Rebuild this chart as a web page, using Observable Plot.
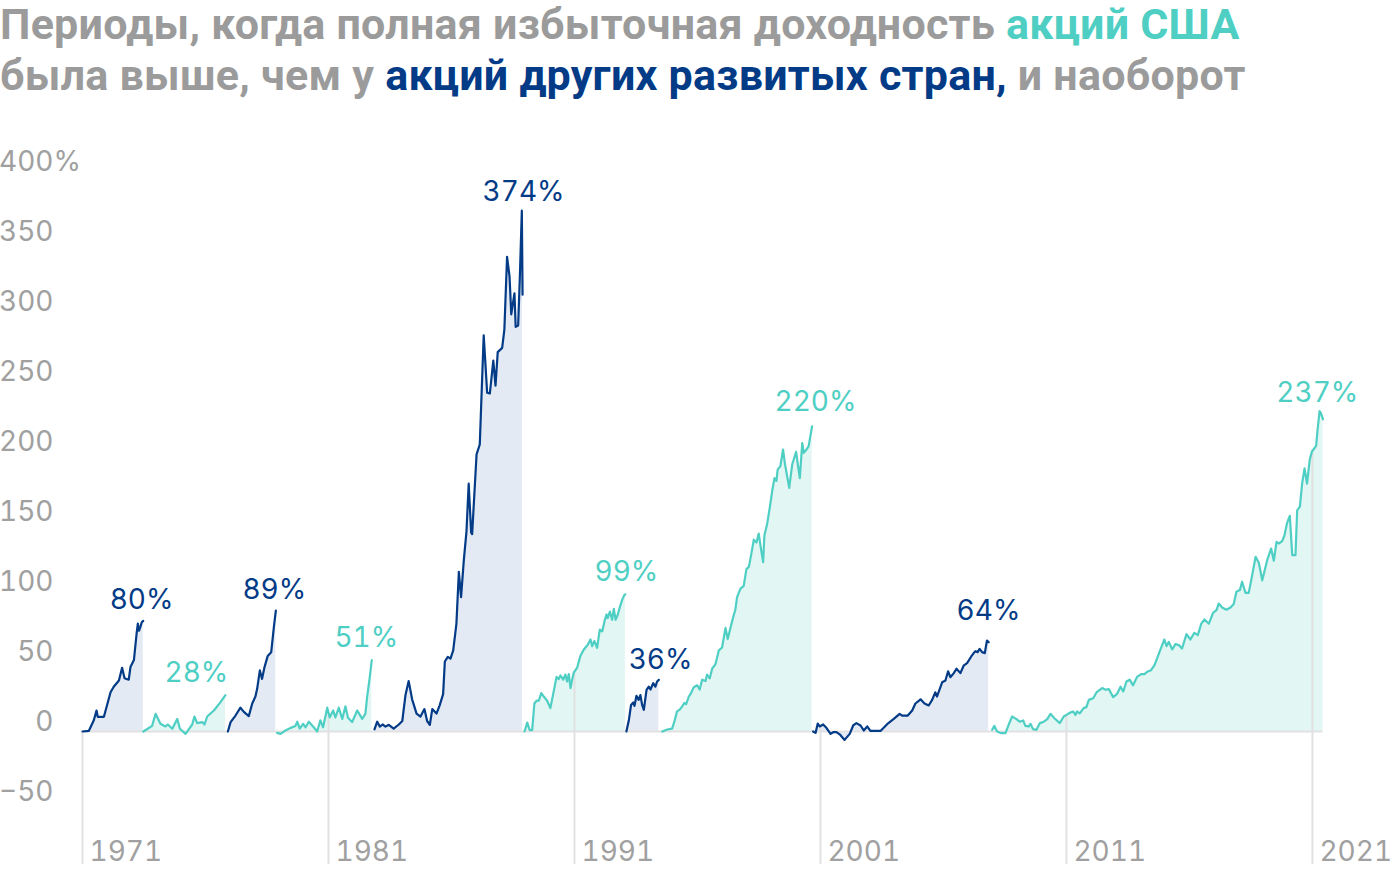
<!DOCTYPE html>
<html>
<head>
<meta charset="utf-8">
<script src="https://cdn.jsdelivr.net/npm/d3@7"></script>
<script src="https://cdn.jsdelivr.net/npm/@observablehq/plot@0.6"></script>
<style>
  html, body { margin: 0; padding: 0; background: #fff; width: 1400px; height: 872px; overflow: hidden; }
  #title { position: absolute; left: 0; top: -1px; font-family: Roboto, "Noto Sans", sans-serif; font-weight: 700; font-size: 43px; letter-spacing: 0.25px; line-height: 51px; color: #9b9b9b; white-space: nowrap; }
  #title .us { color: #4fcfc4; }
  #title .dev { color: #033b87; }
  #chart { position: absolute; left: 0; top: 110px; }
  #chart svg text { font-variant-numeric: tabular-nums; font-feature-settings: "tnum" 1; }
</style>
</head>
<body>
<div id="title">Периоды, когда полная избыточная доходность <span class="us">акций США</span><br>была выше, чем у <span class="dev">акций других развитых стран,</span> и наоборот</div>
<div id="chart"></div>
<script>
// ---- data: [year, excess return %] per period ----
const period1 = [[1971.00,0],[1971.26,0.5],[1971.46,8],[1971.57,15],[1971.62,10.5],[1971.87,10.5],[1972.14,28],[1972.27,32],[1972.48,36.4],[1972.61,45.5],[1972.71,38],[1972.88,37],[1972.95,46],[1973.09,51],[1973.20,70],[1973.25,77],[1973.30,72],[1973.36,75],[1973.41,78],[1973.47,79]];
const period2 = [[1973.47,0],[1973.65,2],[1973.83,4],[1973.97,12.6],[1974.17,5.5],[1974.37,3.6],[1974.47,5],[1974.65,2],[1974.85,9],[1974.96,2],[1975.19,-1.7],[1975.46,5],[1975.55,10.7],[1975.66,6],[1975.87,6.7],[1975.96,5],[1976.07,10.7],[1976.34,15],[1976.61,21],[1976.81,26]];
const period3 = [[1976.91,0],[1977.02,6.7],[1977.22,11.4],[1977.42,17],[1977.56,14],[1977.76,11],[1977.90,20],[1978.03,25],[1978.10,30.5],[1978.21,43.6],[1978.30,37.6],[1978.40,46],[1978.53,54],[1978.67,56.6],[1978.78,74.5],[1978.86,86.4]];
const period4 = [[1978.91,-1],[1979.05,-1.7],[1979.25,0.7],[1979.46,2.6],[1979.66,4],[1979.73,7],[1979.83,2],[1979.97,5.5],[1980.07,3],[1980.20,7],[1980.40,3],[1980.54,0],[1980.67,8],[1980.78,3],[1980.95,17],[1981.05,10],[1981.19,15],[1981.28,10],[1981.42,17],[1981.56,9],[1981.69,18],[1981.79,10],[1981.96,6.7],[1982.17,15],[1982.37,9],[1982.50,12.6],[1982.57,24.5],[1982.68,39],[1982.76,51]];
const period5 = [[1982.87,1.6],[1982.98,7],[1983.09,3.5],[1983.20,5],[1983.32,3.5],[1983.45,4.8],[1983.65,2],[1983.86,5],[1984.00,7.5],[1984.13,26],[1984.26,36],[1984.40,23],[1984.58,12.8],[1984.74,10.7],[1984.90,16],[1985.01,7.5],[1985.12,4.8],[1985.22,16],[1985.39,12.8],[1985.52,18.7],[1985.66,26.7],[1985.73,50],[1985.85,53.3],[1985.96,52],[1986.07,58],[1986.20,76.8],[1986.30,114],[1986.39,96],[1986.50,122],[1986.61,143],[1986.70,177],[1986.80,142],[1986.84,141],[1987.02,198],[1987.15,205],[1987.31,283],[1987.45,242],[1987.56,241.5],[1987.70,265],[1987.79,247],[1987.88,271],[1988.06,274],[1988.15,287],[1988.26,339],[1988.36,325],[1988.43,298],[1988.56,313],[1988.61,289],[1988.71,290],[1988.78,325],[1988.86,372],[1988.89,312]];
const period6 = [[1988.97,0],[1989.08,6.4],[1989.18,1],[1989.28,1],[1989.37,20],[1989.46,22],[1989.55,22],[1989.65,27.4],[1989.75,25],[1989.89,22],[1990.02,16.7],[1990.16,29],[1990.27,39],[1990.36,37.4],[1990.43,40],[1990.54,37],[1990.63,40.7],[1990.70,35.7],[1990.77,41],[1990.84,31],[1990.91,37.4],[1990.97,42],[1991.11,45.7],[1991.24,54],[1991.38,58.6],[1991.54,62],[1991.65,65.7],[1991.72,61],[1991.81,64.6],[1991.92,59.8],[1992.03,72.8],[1992.13,71.6],[1992.22,78.8],[1992.30,83.6],[1992.35,81],[1992.44,85.7],[1992.53,79.8],[1992.60,87.6],[1992.67,79.8],[1992.76,83.4],[1992.84,88.6],[1992.94,94],[1993.03,97.6],[1993.07,98]];
const period7 = [[1993.11,0],[1993.21,8],[1993.30,19],[1993.39,20.7],[1993.44,18.3],[1993.52,25.5],[1993.61,22.6],[1993.68,26],[1993.75,19],[1993.82,15.5],[1993.93,29.8],[1994.02,32],[1994.09,30],[1994.20,34.5],[1994.29,32],[1994.36,35.7],[1994.43,36.9]];
const period8 = [[1994.57,0],[1994.77,1.4],[1994.97,2],[1995.07,7.6],[1995.17,14.4],[1995.28,15.6],[1995.38,18],[1995.47,20.4],[1995.54,19.6],[1995.65,25],[1995.74,27.4],[1995.85,31.6],[1995.99,33],[1996.09,30],[1996.19,37],[1996.33,36],[1996.39,40.7],[1996.50,38],[1996.60,45],[1996.73,48],[1996.87,58],[1997.00,60],[1997.14,74],[1997.23,66],[1997.34,74],[1997.45,81.6],[1997.54,87],[1997.61,96],[1997.75,102],[1997.88,104],[1997.99,116],[1998.09,117.6],[1998.18,126],[1998.29,137],[1998.40,135],[1998.49,141.4],[1998.59,129.5],[1998.67,121],[1998.72,140],[1998.83,148],[1998.94,160],[1999.04,172],[1999.13,181],[1999.21,179],[1999.26,187],[1999.37,189.5],[1999.48,201.4],[1999.56,190.7],[1999.65,182],[1999.73,174],[1999.85,190.7],[2000.01,199.8],[2000.08,190.7],[2000.16,181],[2000.26,206],[2000.32,199],[2000.43,201.4],[2000.52,203.8],[2000.66,218]];
const period9 = [[2000.70,0],[2000.80,-1],[2000.89,5.7],[2000.97,3.6],[2001.11,5],[2001.24,2.6],[2001.41,-1.7],[2001.52,-0.5],[2001.65,-0.5],[2001.78,-2],[2001.98,-6],[2002.19,-1.7],[2002.33,4.3],[2002.46,6],[2002.63,4.3],[2002.76,0.7],[2002.90,3.6],[2003.03,0.4],[2003.44,0.4],[2003.71,5.2],[2003.98,9],[2004.22,12.6],[2004.32,11.4],[2004.55,11.4],[2004.73,15],[2004.86,20],[2005.07,23],[2005.23,20],[2005.40,18.6],[2005.54,22.6],[2005.67,28],[2005.74,25],[2005.95,35.2],[2006.08,36.4],[2006.19,43],[2006.28,38.8],[2006.42,41.7],[2006.53,44.8],[2006.69,41.7],[2006.82,47],[2006.96,48.8],[2007.13,53.6],[2007.23,56],[2007.30,57.4],[2007.39,56.7],[2007.47,59],[2007.57,56.7],[2007.68,56],[2007.77,65],[2007.84,63.8]];
const period10 = [[2007.98,1.2],[2008.07,4],[2008.18,0],[2008.35,-1.2],[2008.52,-1.2],[2008.65,4.8],[2008.79,10.7],[2008.97,8.8],[2009.10,7],[2009.24,7.9],[2009.33,4],[2009.47,3.6],[2009.54,5.5],[2009.64,1.7],[2009.78,1.2],[2009.92,6],[2010.08,7],[2010.22,8.8],[2010.35,12.6],[2010.51,9.5],[2010.73,6],[2010.89,10.7],[2011.00,11.9],[2011.16,13.6],[2011.27,14.3],[2011.37,11.9],[2011.43,14.3],[2011.54,13],[2011.70,16.7],[2011.81,17.4],[2011.91,22.6],[2012.09,23.8],[2012.22,27.9],[2012.45,31],[2012.59,29.8],[2012.72,30.3],[2012.90,24.5],[2013.06,26.9],[2013.20,32],[2013.31,28.6],[2013.44,35.7],[2013.57,37],[2013.71,33],[2013.87,39],[2014.04,41],[2014.17,41],[2014.28,42.6],[2014.44,43.8],[2014.58,47.4],[2014.75,55.2],[2014.89,61.7],[2014.98,65.7],[2015.07,61],[2015.16,64],[2015.30,58.6],[2015.43,62.4],[2015.57,61.7],[2015.70,59.3],[2015.88,69.5],[2016.04,65.7],[2016.20,70.5],[2016.34,68.8],[2016.48,77],[2016.61,80],[2016.79,77],[2016.96,84.8],[2017.10,86.7],[2017.19,91.4],[2017.33,88.6],[2017.50,87],[2017.67,88.6],[2017.80,91],[2017.91,99.8],[2018.05,101],[2018.14,107],[2018.28,99],[2018.41,99],[2018.55,111.7],[2018.69,124.8],[2018.82,120.5],[2018.96,108],[2019.16,122.4],[2019.32,130.7],[2019.43,122],[2019.54,135.5],[2019.63,134.3],[2019.77,136],[2019.86,140],[2019.97,149],[2020.08,154],[2020.18,126],[2020.31,126],[2020.38,158],[2020.49,160.7],[2020.58,177],[2020.68,188],[2020.78,177],[2020.89,194],[2020.98,200],[2021.15,204],[2021.21,215.7],[2021.29,228.8],[2021.34,227.6],[2021.43,223]];

const periods = [period1, period2, period3, period4, period5, period6, period7, period8, period9, period10];
const periodLeader = ["dev", "us", "dev", "us", "dev", "us", "dev", "us", "dev", "us"];
const peakLabels = ["80%", "28%", "89%", "51%", "374%", "99%", "36%", "220%", "64%", "237%"];
const labelYear  = [1973.40, 1975.63, 1978.80, 1982.54, 1988.93, 1993.11, 1994.50, 2000.80, 2007.83, 2021.20];
const labelValue = [93.6, 42, 100.7, 67, 385, 113.6, 50.7, 235, 85.7, 242];
const yTicks = [-50, 0, 50, 100, 150, 200, 250, 300, 350, 400];
const xTicks = [1971, 1981, 1991, 2001, 2011, 2021];

// ---- styling ----
const COLORS = { dev: "#033b87", us: "#4fcfc4" };
const FILLS = { dev: "#e4eaf3", us: "#e2f6f3" };
const GRAY = "#a0a0a0";
const GRID = "#e1e1e1";

const rows = periods.flatMap((pts, i) => pts.map(([year, value]) => ({ year, value, seg: i, leader: periodLeader[i] })));
const labels = peakLabels.map((text, i) => ({ text, year: labelYear[i], value: labelValue[i], leader: periodLeader[i] }));
const sorted = rows.slice().sort((a, b) => a.year - b.year);
function valueAt(yr) {
  for (let i = 1; i < sorted.length; i++) {
    if (sorted[i].year >= yr) {
      const a = sorted[i - 1], b = sorted[i];
      const t = (yr - a.year) / (b.year - a.year || 1);
      return a.value + t * (b.value - a.value);
    }
  }
  return sorted[sorted.length - 1].value;
}
const gridRows = xTicks.map(yr => ({ year: yr, top: Math.max(0, valueAt(yr)) }));
const first = sorted[0].year, last = sorted[sorted.length - 1].year;

const marks = [];
for (const side of ["dev", "us"]) {
  marks.push(Plot.areaY(rows.filter(d => d.leader === side), { x: "year", y: "value", z: "seg", fill: FILLS[side] }));
}
marks.push(
  Plot.ruleX(gridRows, { x: "year", y1: -95, y2: "top", stroke: GRID, strokeWidth: 2 }),
  Plot.ruleY([0], { x1: first, x2: last, stroke: GRID, strokeWidth: 2 })
);
for (const side of ["dev", "us"]) {
  marks.push(Plot.lineY(rows.filter(d => d.leader === side), { x: "year", y: "value", z: "seg", stroke: COLORS[side], strokeWidth: 2.2, strokeLinejoin: "round" }));
}
marks.push(
  Plot.axisY(yTicks, { tickSize: 0, tickPadding: 29, tickFormat: d3.format("d"), fontSize: 28, fill: GRAY, dy: -9, textAnchor: "end" }),
  Plot.text(["%"], { y: [400], frameAnchor: "left", dx: -29, dy: -9, textAnchor: "start", fontSize: 28, fill: GRAY }),
  Plot.text(xTicks, { x: d => d, frameAnchor: "bottom", dx: 7, dy: -12, lineAnchor: "middle", textAnchor: "start", fontSize: 28, fill: GRAY, text: d => String(d) }),
  Plot.text(labels, { x: "year", y: "value", text: "text", fill: d => COLORS[d.leader], fontSize: 28, textAnchor: "middle", lineAnchor: "middle" })
);

const chart = Plot.plot({
  width: 1400,
  height: 762,
  marginLeft: 82,
  marginRight: 0,
  marginTop: 61,
  marginBottom: 8,
  x: { domain: [1971, 2024.58], axis: null },
  y: { domain: [-95, 400], axis: null },
  color: { type: "identity" },
  style: { fontFamily: "Inter, Roboto, sans-serif", background: "#fff", overflow: "visible" },
  marks
});
document.getElementById("chart").appendChild(chart);
</script>
</body>
</html>
